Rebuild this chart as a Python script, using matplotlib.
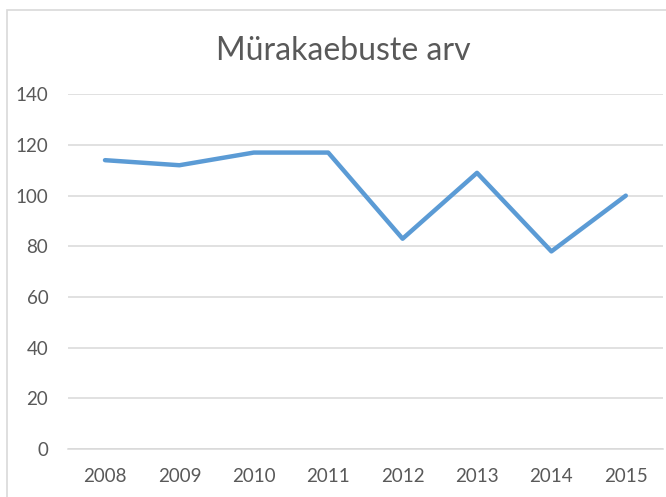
import matplotlib
matplotlib.use("Agg")
import matplotlib.pyplot as plt
from matplotlib.patches import Rectangle

years = ["2008", "2009", "2010", "2011", "2012", "2013", "2014", "2015"]
complaints = [114, 112, 117, 117, 83, 109, 78, 100]
y_ticks = [0, 20, 40, 60, 80, 100, 120, 140]
title = "Mürakaebuste arv"

plt.rcParams['font.family'] = ['Lato', 'DejaVu Sans']
text_color = "#595959"
grid_color = "#D9D9D9"

W, H = 666, 497
fig = plt.figure(figsize=(W / 100, H / 100), dpi=100)
ax = fig.add_axes([67.8 / W, 1 - 449 / H, (663 - 67.8) / W, (449 - 94.3) / H])

x = list(range(len(years)))
ax.plot(x, complaints, color="#5B9BD5", linewidth=3.2, solid_joinstyle="round",
        solid_capstyle="round", zorder=3)

ax.set_xlim(-0.5, len(years) - 0.5)
ax.set_ylim(0, 140)
ax.set_yticks(y_ticks)
ax.set_yticklabels([str(v) for v in y_ticks])
ax.set_xticks(x)
ax.set_xticklabels(years)
ax.tick_params(axis="both", length=0, labelsize=13.5, labelcolor=text_color)
ax.tick_params(axis="y", pad=14)
ax.tick_params(axis="x", pad=14)
ax.grid(axis="y", color=grid_color, linewidth=1.1)
ax.set_axisbelow(True)
for s in ["top", "right", "left"]:
    ax.spines[s].set_visible(False)
ax.spines["bottom"].set_color(grid_color)
ax.spines["bottom"].set_linewidth(1.1)

fig.text(343 / W, 1 - 51 / H, title, ha="center", va="center", fontsize=23,
         color=text_color)

fig.patches.append(Rectangle((7 / W, -0.1), 1.2, 1.1 - 10 / H, transform=fig.transFigure,
                             fill=False, edgecolor=grid_color, linewidth=1.2))

fig.savefig("out.png", dpi=100)
